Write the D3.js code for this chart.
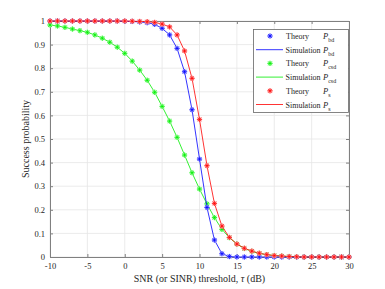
<!DOCTYPE html>
<html>
<head>
<meta charset="utf-8">
<script src="https://cdn.jsdelivr.net/npm/d3@7"></script>
<style>
  body { margin: 0; background: #fff; }
  text { font-family: "Liberation Serif", "Times New Roman", serif; fill: #262626; }
</style>
</head>
<body>
<div id="chart"></div>
<script>
// SNR threshold in dB, one point per dB
var snr = d3.range(-10, 31, 1);

// P_bd
var pBd = [1, 1, 1, 1, 1, 1, 1, 1, 1, 1,
  0.999, 0.998, 0.996, 0.993, 0.986, 0.969, 0.941, 0.884, 0.785, 0.624,
  0.415, 0.21, 0.072, 0.014, 0.002, 0, 0, 0, 0, 0,
  0, 0, 0, 0, 0, 0, 0, 0, 0, 0, 0];

// P_csd
var pCsd = [0.983, 0.979, 0.973, 0.966, 0.959, 0.952, 0.941, 0.927, 0.91, 0.889,
  0.863, 0.83, 0.792, 0.749, 0.698, 0.638, 0.576, 0.507, 0.432, 0.357,
  0.288, 0.225, 0.167, 0.117, 0.082, 0.055, 0.036, 0.024, 0.015, 0.01,
  0.006, 0.004, 0.002, 0.001, 0, 0, 0, 0, 0, 0, 0];

// P_s
var pS = [1, 1, 1, 1, 1, 1, 1, 1, 1, 1,
  1, 0.999, 0.998, 0.997, 0.994, 0.987, 0.975, 0.941, 0.873, 0.757,
  0.583, 0.387, 0.227, 0.131, 0.083, 0.055, 0.037, 0.025, 0.016, 0.01,
  0.006, 0.004, 0.002, 0.001, 0, 0, 0, 0, 0, 0, 0];

var xTicks = d3.range(-10, 31, 5);
var yTicks = d3.range(0, 11).map(function(i) { return i / 10; });

var series = [
  {sub: 'bd', color: '#0000ff', halo: '#b0b0ff', values: pBd},
  {sub: 'csd', color: '#00ee00', halo: '#b0ffb0', values: pCsd},
  {sub: 's', color: '#ff0000', halo: '#ffb0b0', values: pS}
];
// draw order: csd first, then bd, then s on top
var drawOrder = [1, 0, 2];

var width = 385;
var height = 289;
var padLeft = 50, padRight = 349, padTop = 21, padBottom = 257;

var svg = d3.select('#chart')
    .append('svg')
    .attr('width', width)
    .attr('height', height);

var scaleX = d3.scaleLinear().domain([-10, 30]).range([padLeft, padRight]);
var scaleY = d3.scaleLinear().domain([0, 1]).range([padBottom, padTop]);

// grid
var grid = svg.append('g');
grid.selectAll('.gx')
    .data(xTicks)
    .enter()
    .append('line')
    .attr('x1', function(d) { return scaleX(d); })
    .attr('x2', function(d) { return scaleX(d); })
    .attr('y1', padTop)
    .attr('y2', padBottom)
    .attr('stroke', '#e6e6e6')
    .attr('stroke-width', 0.8);
grid.selectAll('.gy')
    .data(yTicks)
    .enter()
    .append('line')
    .attr('x1', padLeft)
    .attr('x2', padRight)
    .attr('y1', function(d) { return scaleY(d); })
    .attr('y2', function(d) { return scaleY(d); })
    .attr('stroke', '#e6e6e6')
    .attr('stroke-width', 0.8);

// Axis
var axisX = d3.axisBottom(scaleX).tickValues(xTicks).tickSize(-3).tickPadding(6)
    .tickFormat(function(d) { return String(d); });
var axisY = d3.axisLeft(scaleY).tickValues(yTicks).tickSize(-3).tickPadding(5)
    .tickFormat(function(d) { return d === 0 || d === 1 ? String(d) : d3.format('.1f')(d); });
var axisTop = d3.axisTop(scaleX).tickValues(xTicks).tickSize(-3).tickFormat('');
var axisRight = d3.axisRight(scaleY).tickValues(yTicks).tickSize(-3).tickFormat('');

function styleAxis(g) {
  g.select('.domain').attr('stroke', '#808080').attr('stroke-width', 1);
  g.selectAll('.tick line').attr('stroke', '#808080');
  g.selectAll('.tick text')
      .attr('fill', '#262626')
      .attr('font-family', '"Liberation Serif", serif')
      .attr('font-size', 8.5);
}

svg.append('g').attr('transform', 'translate(0,' + padBottom + ')').call(axisX).call(styleAxis);
svg.append('g').attr('transform', 'translate(' + padLeft + ',0)').call(axisY).call(styleAxis);
svg.append('g').attr('transform', 'translate(0,' + padTop + ')').call(axisTop).call(styleAxis);
svg.append('g').attr('transform', 'translate(' + padRight + ',0)').call(axisRight).call(styleAxis);

// asterisk marker
function star(g, color, halo, r) {
  var ang = [0, 45, 90, 135];
  ang.forEach(function(a) {
    var rad = a * Math.PI / 180;
    g.append('line')
        .attr('x1', -r * Math.cos(rad)).attr('y1', -r * Math.sin(rad))
        .attr('x2', r * Math.cos(rad)).attr('y2', r * Math.sin(rad))
        .attr('stroke', halo).attr('stroke-width', 1.5);
  });
  ang.forEach(function(a) {
    var rad = a * Math.PI / 180;
    g.append('line')
        .attr('x1', -r * Math.cos(rad)).attr('y1', -r * Math.sin(rad))
        .attr('x2', r * Math.cos(rad)).attr('y2', r * Math.sin(rad))
        .attr('stroke', color).attr('stroke-width', 0.7);
  });
}

var line = d3.line()
    .x(function(d, i) { return scaleX(snr[i]); })
    .y(function(d) { return scaleY(d); });

drawOrder.forEach(function(k) {
  var s = series[k];
  svg.append('path')
      .datum(s.values)
      .attr('d', line)
      .attr('fill', 'none')
      .attr('stroke', s.color)
      .attr('stroke-width', 0.8);
  svg.append('g').selectAll('g')
      .data(s.values)
      .enter()
      .append('g')
      .attr('transform', function(d, i) {
        return 'translate(' + scaleX(snr[i]) + ',' + scaleY(d) + ')';
      })
      .each(function() { star(d3.select(this), s.color, s.halo, 2.6); });
});

// Labels
svg.append('text')
    .attr('x', (padLeft + padRight) / 2)
    .attr('y', 282)
    .attr('text-anchor', 'middle')
    .attr('font-size', 10)
    .html('SNR (or SINR) threshold, <tspan font-style="italic">τ</tspan> (dB)');

svg.append('text')
    .attr('transform', 'translate(29,' + (padTop + padBottom) / 2 + ') rotate(-90)')
    .attr('text-anchor', 'middle')
    .attr('font-size', 10)
    .text('Success probability');

// Legend
var legend = svg.append('g');
legend.append('rect')
    .attr('x', 253.5).attr('y', 29.5)
    .attr('width', 95).attr('height', 83)
    .attr('fill', '#fff')
    .attr('stroke', '#666')
    .attr('stroke-width', 0.8);

var rowH = 13.7;
series.forEach(function(s, k) {
  var y1 = 36 + k * 2 * rowH;
  var y2 = y1 + rowH;
  var mk = legend.append('g').attr('transform', 'translate(270,' + y1 + ')');
  star(mk, s.color, s.halo, 2.6);
  legend.append('text').attr('x', 286).attr('y', y1 + 3).attr('font-size', 8).text('Theory');
  legend.append('line')
      .attr('x1', 256).attr('x2', 283)
      .attr('y1', y2).attr('y2', y2)
      .attr('stroke', s.color).attr('stroke-width', 0.8);
  legend.append('text').attr('x', 285.5).attr('y', y2 + 3).attr('font-size', 8).text('Simulation');
  [[323, y1 + 3], [323, y2 + 3]].forEach(function(p) {
    legend.append('text').attr('x', p[0]).attr('y', p[1]).attr('font-size', 8.5)
        .html('<tspan font-style="italic">P</tspan><tspan font-size="6" dy="3">' + s.sub + '</tspan>');
  });
});
</script>
</body>
</html>
